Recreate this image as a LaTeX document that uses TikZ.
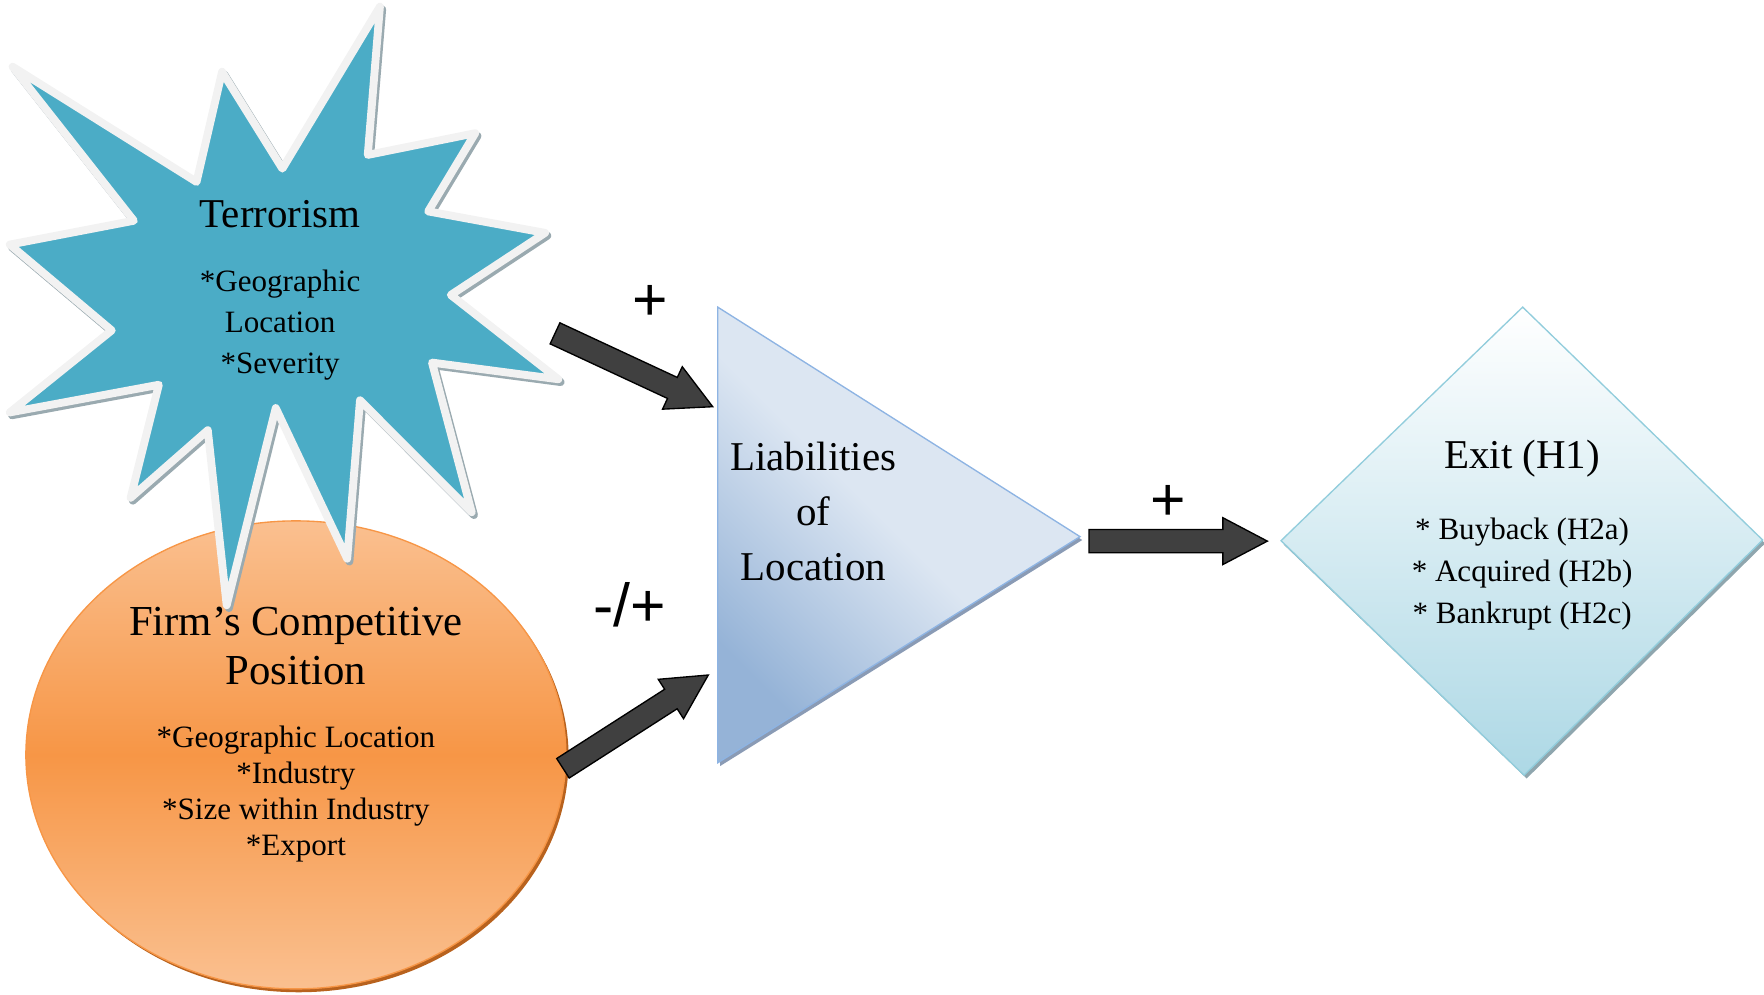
\documentclass[tikz,border=0pt]{standalone}
\usepackage{fontspec}
\setmainfont{Liberation Serif}
\newfontfamily\sansf{Liberation Sans}
\usetikzlibrary{calc}

\definecolor{starblue}{HTML}{4BACC6}
\definecolor{starrim}{HTML}{F2F2F2}
\definecolor{starshadow}{HTML}{9AAAB0}
\definecolor{orangemid}{HTML}{F79646}
\definecolor{orangelight}{HTML}{FAC090}
\definecolor{orangeshadow}{HTML}{B8621E}
\definecolor{trilight}{HTML}{DCE6F2}
\definecolor{tridark}{HTML}{95B3D7}
\definecolor{triline}{HTML}{8EB4E3}
\definecolor{trishadow}{HTML}{8A9BB5}
\definecolor{diabottom}{HTML}{ADD8E5}
\definecolor{dialine}{HTML}{92CDDC}
\definecolor{diashadow}{HTML}{8FA6AE}
\definecolor{arrowfill}{HTML}{404040}

\newcommand{\blockarrow}[2]{%
  \path ($(#2)!19.75pt!(#1)$) coordinate (#1-#2-b);
  \filldraw[blockarrowstyle]
    ($(#1)!5.15pt!90:(#2)$) --
    ($(#1-#2-b)!5.15pt!90:(#2)$) --
    ($(#1-#2-b)!10.4pt!90:(#2)$) --
    (#2) --
    ($(#1-#2-b)!10.4pt!-90:(#2)$) --
    ($(#1-#2-b)!5.15pt!-90:(#2)$) --
    ($(#1)!5.15pt!-90:(#2)$) -- cycle;}

\begin{document}
\begin{tikzpicture}[x=0.5pt,y=-0.5pt,
  lbl/.style={inner sep=0pt, align=center, text=black},
  bigtext/.style={lbl, font=\fontsize{18.2}{24.5}\selectfont},
  subtext/.style={lbl, font=\fontsize{13.8}{18.3}\selectfont},
  sign/.style={inner sep=0pt, font=\sansf\fontsize{27}{30}\selectfont},
  blockarrowstyle/.style={fill=arrowfill, draw=black, line width=0.6pt, line join=miter},
  starshape/.pic={\path[pic actions] (11.2,59.3) -- (174.7,161.7) -- (197.4,63.8) -- (251,149.9)
     -- (337.7,5.9) -- (326.9,137.7) -- (422.4,118.4) -- (380.6,187.9) -- (484.5,207)
     -- (400.7,262.2) -- (496.3,337.1) -- (384,322.3) -- (419.3,455.3) -- (320,355.8)
     -- (308.6,496.6) -- (245.1,362.7) -- (201.5,538) -- (184.7,382.4) -- (116.1,442.5)
     -- (141.2,342) -- (8.7,366.6) -- (99.3,293.7) -- (8.7,217.4) -- (119,196.2) -- cycle;}
]
\useasboundingbox (0,0) rectangle (1568,884);

% ellipse: firm's competitive position
\fill[orangeshadow] (265.5,674) ellipse [x radius=240, y radius=208];
\shade[top color=orangelight, bottom color=orangelight, middle color=orangemid, draw=orangemid, line width=0.6pt]
  (263,671) ellipse [x radius=240, y radius=208];

% star: terrorism
\pic[fill=starshadow, draw=starshadow, line width=3.5pt, line join=round] at (2,2.5) {starshape};
\pic[fill=starblue, draw=starrim, line width=3.5pt, line join=round] at (0,0) {starshape};

% triangle: liabilities of location
\fill[trishadow] (640,276) -- (640,681) -- (962,480) -- cycle;
\shade[top color=trilight, bottom color=tridark, middle color=trilight, shading angle=-45, draw=triline, line width=0.6pt]
  (638,273) -- (638,678) -- (960,477) -- cycle;

% diamond: exit
\fill[diashadow] (1356,276) -- (1569,483) -- (1357,692) -- (1141,484) -- cycle;
\shade[top color=white, bottom color=diabottom, draw=dialine, line width=0.6pt]
  (1353.5,273) -- (1566.8,480) -- (1354.7,689) -- (1138.7,480.6) -- cycle;

% connectors
\coordinate (tA) at (493.35,296.3);
\coordinate (hA) at (633.5,361.5);
\coordinate (tB) at (500.4,682.9);
\coordinate (hB) at (629.6,600);
\coordinate (tC) at (968,481);
\coordinate (hC) at (1126.5,481);
\blockarrow{tA}{hA}
\blockarrow{tB}{hB}
\blockarrow{tC}{hC}

% texts
\node[bigtext] (terror) at (249,190) {Terrorism};
\node[subtext] (terrorsub) at (249,289) {*Geographic\\Location\\*Severity};
\node[lbl, font=\fontsize{19}{22}\selectfont] (firm) at (263,574) {Firm’s Competitive\\Position};
\node[lbl, font=\fontsize{13.8}{16}\selectfont] (firmsub) at (263,706) {*Geographic Location\\*Industry\\*Size within Industry\\*Export};
\node[bigtext] (liab) at (723,454.5) {Liabilities\\of\\Location};
\node[bigtext] (exit) at (1353,407.5) {Exit (H1)};
\node[lbl, font=\fontsize{13.8}{18.6}\selectfont] (exitsub) at (1353,510.5) {* Buyback (H2a)\\* Acquired (H2b)\\* Bankrupt (H2c)};

\node[sign] (signA) at (578,269) {+};
\node[sign] (signB) at (560,538) {-/+};
\node[sign] (signC) at (1038.5,447) {+};
\end{tikzpicture}
\end{document}
